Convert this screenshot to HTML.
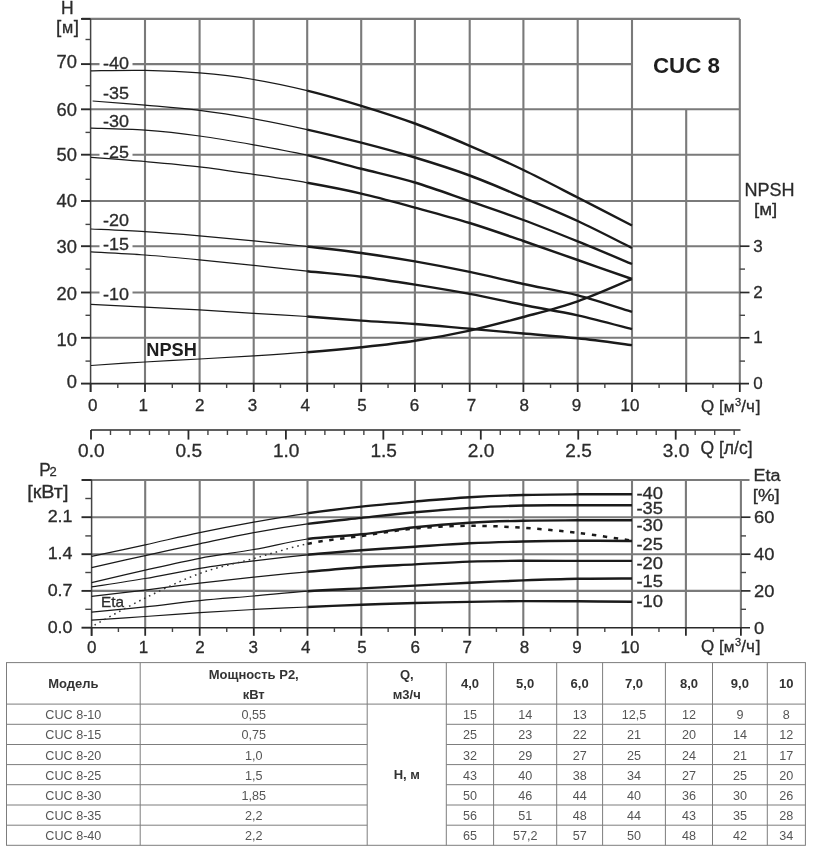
<!DOCTYPE html>
<html><head><meta charset="utf-8"><title>CUC 8</title>
<style>
html,body{margin:0;padding:0;background:#fff;}
body{width:816px;height:851px;overflow:hidden;}
svg{display:block;font-family:'Liberation Sans', Arial, sans-serif;}
</style></head><body>
<svg width="816" height="851" viewBox="0 0 816 851">
<rect width="816" height="851" fill="#fff"/>
<line x1="90.60" y1="337.80" x2="739.80" y2="337.80" stroke="#7a7a7a" stroke-width="2.1" />
<line x1="90.60" y1="292.50" x2="739.80" y2="292.50" stroke="#7a7a7a" stroke-width="2.1" />
<line x1="90.60" y1="246.20" x2="739.80" y2="246.20" stroke="#7a7a7a" stroke-width="2.1" />
<line x1="90.60" y1="201.00" x2="739.80" y2="201.00" stroke="#7a7a7a" stroke-width="2.1" />
<line x1="90.60" y1="154.70" x2="739.80" y2="154.70" stroke="#7a7a7a" stroke-width="2.1" />
<line x1="90.60" y1="109.30" x2="739.80" y2="109.30" stroke="#7a7a7a" stroke-width="2.1" />
<line x1="90.60" y1="64.10" x2="632.00" y2="64.10" stroke="#7a7a7a" stroke-width="2.1" />
<line x1="82.00" y1="18.90" x2="739.80" y2="18.90" stroke="#7a7a7a" stroke-width="2.1" />
<line x1="145.00" y1="18.90" x2="145.00" y2="383.60" stroke="#7a7a7a" stroke-width="2.1" />
<line x1="199.60" y1="18.90" x2="199.60" y2="383.60" stroke="#7a7a7a" stroke-width="2.1" />
<line x1="253.70" y1="18.90" x2="253.70" y2="383.60" stroke="#7a7a7a" stroke-width="2.1" />
<line x1="307.20" y1="18.90" x2="307.20" y2="383.60" stroke="#7a7a7a" stroke-width="2.1" />
<line x1="361.20" y1="18.90" x2="361.20" y2="383.60" stroke="#7a7a7a" stroke-width="2.1" />
<line x1="414.90" y1="18.90" x2="414.90" y2="383.60" stroke="#7a7a7a" stroke-width="2.1" />
<line x1="469.70" y1="18.90" x2="469.70" y2="383.60" stroke="#7a7a7a" stroke-width="2.1" />
<line x1="523.40" y1="18.90" x2="523.40" y2="383.60" stroke="#7a7a7a" stroke-width="2.1" />
<line x1="577.70" y1="18.90" x2="577.70" y2="383.60" stroke="#7a7a7a" stroke-width="2.1" />
<line x1="632.00" y1="18.90" x2="632.00" y2="383.60" stroke="#7a7a7a" stroke-width="2.1" />
<line x1="686.20" y1="109.30" x2="686.20" y2="383.60" stroke="#7a7a7a" stroke-width="2.1" />
<line x1="739.80" y1="18.90" x2="739.80" y2="383.60" stroke="#7a7a7a" stroke-width="2.1" />
<line x1="90.60" y1="18.90" x2="90.60" y2="392.00" stroke="#444" stroke-width="1.5" />
<line x1="81.00" y1="383.60" x2="90.60" y2="383.60" stroke="#2a2a2a" stroke-width="1.9" />
<line x1="81.00" y1="337.80" x2="90.60" y2="337.80" stroke="#2a2a2a" stroke-width="1.9" />
<line x1="81.00" y1="292.50" x2="90.60" y2="292.50" stroke="#2a2a2a" stroke-width="1.9" />
<line x1="81.00" y1="246.20" x2="90.60" y2="246.20" stroke="#2a2a2a" stroke-width="1.9" />
<line x1="81.00" y1="201.00" x2="90.60" y2="201.00" stroke="#2a2a2a" stroke-width="1.9" />
<line x1="81.00" y1="154.70" x2="90.60" y2="154.70" stroke="#2a2a2a" stroke-width="1.9" />
<line x1="81.00" y1="109.30" x2="90.60" y2="109.30" stroke="#2a2a2a" stroke-width="1.9" />
<line x1="81.00" y1="64.10" x2="90.60" y2="64.10" stroke="#2a2a2a" stroke-width="1.9" />
<line x1="81.00" y1="18.90" x2="90.60" y2="18.90" stroke="#2a2a2a" stroke-width="1.9" />
<line x1="85.50" y1="361.10" x2="90.60" y2="361.10" stroke="#444" stroke-width="1.4" />
<line x1="85.50" y1="315.30" x2="90.60" y2="315.30" stroke="#444" stroke-width="1.4" />
<line x1="85.50" y1="269.10" x2="90.60" y2="269.10" stroke="#444" stroke-width="1.4" />
<line x1="85.50" y1="224.40" x2="90.60" y2="224.40" stroke="#444" stroke-width="1.4" />
<line x1="85.50" y1="179.30" x2="90.60" y2="179.30" stroke="#444" stroke-width="1.4" />
<line x1="85.50" y1="132.40" x2="90.60" y2="132.40" stroke="#444" stroke-width="1.4" />
<line x1="85.50" y1="85.70" x2="90.60" y2="85.70" stroke="#444" stroke-width="1.4" />
<line x1="85.50" y1="39.50" x2="90.60" y2="39.50" stroke="#444" stroke-width="1.4" />
<line x1="90.60" y1="383.60" x2="749.00" y2="383.60" stroke="#2a2a2a" stroke-width="1.6" />
<line x1="90.60" y1="383.60" x2="90.60" y2="392.00" stroke="#2a2a2a" stroke-width="1.8" />
<line x1="145.00" y1="383.60" x2="145.00" y2="392.00" stroke="#2a2a2a" stroke-width="1.8" />
<line x1="199.60" y1="383.60" x2="199.60" y2="392.00" stroke="#2a2a2a" stroke-width="1.8" />
<line x1="253.70" y1="383.60" x2="253.70" y2="392.00" stroke="#2a2a2a" stroke-width="1.8" />
<line x1="307.20" y1="383.60" x2="307.20" y2="392.00" stroke="#2a2a2a" stroke-width="1.8" />
<line x1="361.20" y1="383.60" x2="361.20" y2="392.00" stroke="#2a2a2a" stroke-width="1.8" />
<line x1="414.90" y1="383.60" x2="414.90" y2="392.00" stroke="#2a2a2a" stroke-width="1.8" />
<line x1="469.70" y1="383.60" x2="469.70" y2="392.00" stroke="#2a2a2a" stroke-width="1.8" />
<line x1="523.40" y1="383.60" x2="523.40" y2="392.00" stroke="#2a2a2a" stroke-width="1.8" />
<line x1="577.70" y1="383.60" x2="577.70" y2="392.00" stroke="#2a2a2a" stroke-width="1.8" />
<line x1="632.00" y1="383.60" x2="632.00" y2="392.00" stroke="#2a2a2a" stroke-width="1.8" />
<line x1="686.20" y1="383.60" x2="686.20" y2="392.00" stroke="#2a2a2a" stroke-width="1.8" />
<line x1="739.80" y1="383.60" x2="739.80" y2="392.00" stroke="#2a2a2a" stroke-width="1.8" />
<line x1="117.80" y1="383.60" x2="117.80" y2="388.00" stroke="#444" stroke-width="1.4" />
<line x1="172.30" y1="383.60" x2="172.30" y2="388.00" stroke="#444" stroke-width="1.4" />
<line x1="226.65" y1="383.60" x2="226.65" y2="388.00" stroke="#444" stroke-width="1.4" />
<line x1="280.45" y1="383.60" x2="280.45" y2="388.00" stroke="#444" stroke-width="1.4" />
<line x1="334.20" y1="383.60" x2="334.20" y2="388.00" stroke="#444" stroke-width="1.4" />
<line x1="388.05" y1="383.60" x2="388.05" y2="388.00" stroke="#444" stroke-width="1.4" />
<line x1="442.30" y1="383.60" x2="442.30" y2="388.00" stroke="#444" stroke-width="1.4" />
<line x1="496.55" y1="383.60" x2="496.55" y2="388.00" stroke="#444" stroke-width="1.4" />
<line x1="550.55" y1="383.60" x2="550.55" y2="388.00" stroke="#444" stroke-width="1.4" />
<line x1="604.85" y1="383.60" x2="604.85" y2="388.00" stroke="#444" stroke-width="1.4" />
<line x1="659.10" y1="383.60" x2="659.10" y2="388.00" stroke="#444" stroke-width="1.4" />
<line x1="713.00" y1="383.60" x2="713.00" y2="388.00" stroke="#444" stroke-width="1.4" />
<line x1="739.80" y1="337.80" x2="749.50" y2="337.80" stroke="#2a2a2a" stroke-width="1.7" />
<line x1="739.80" y1="292.50" x2="749.50" y2="292.50" stroke="#2a2a2a" stroke-width="1.7" />
<line x1="739.80" y1="246.20" x2="749.50" y2="246.20" stroke="#2a2a2a" stroke-width="1.7" />
<line x1="739.80" y1="361.10" x2="745.00" y2="361.10" stroke="#444" stroke-width="1.4" />
<line x1="739.80" y1="315.30" x2="745.00" y2="315.30" stroke="#444" stroke-width="1.4" />
<line x1="739.80" y1="269.10" x2="745.00" y2="269.10" stroke="#444" stroke-width="1.4" />
<rect x="99.5" y="62.10" width="33" height="4" fill="#fff"/>
<rect x="99.5" y="152.70" width="33" height="4" fill="#fff"/>
<rect x="99.5" y="244.20" width="33" height="4" fill="#fff"/>
<rect x="99.5" y="290.50" width="33" height="4" fill="#fff"/>
<path d="M91.00,70.80 C100.00,70.73 126.90,70.05 145.00,70.40 C163.10,70.75 181.48,71.38 199.60,72.90 C217.72,74.42 235.77,76.55 253.70,79.50 C271.63,82.45 289.28,86.22 307.20,90.60" fill="none" stroke="#1a1a1a" stroke-width="1.25"/>
<path d="M307.20,90.60 C325.12,94.98 343.25,100.32 361.20,105.80 C379.15,111.28 396.82,116.83 414.90,123.50 C432.98,130.17 451.62,138.05 469.70,145.80 C487.78,153.55 505.40,161.38 523.40,170.00 C541.40,178.62 559.60,188.25 577.70,197.50 C595.80,206.75 622.95,220.83 632.00,225.50" fill="none" stroke="#1a1a1a" stroke-width="2.4"/>
<path d="M92.60,101.00 C101.33,101.70 127.17,103.63 145.00,105.20 C162.83,106.77 181.48,108.14 199.60,110.40 C217.72,112.66 235.77,115.55 253.70,118.75 C271.63,121.95 289.28,125.61 307.20,129.60" fill="none" stroke="#1a1a1a" stroke-width="1.25"/>
<path d="M307.20,129.60 C325.12,133.59 343.25,138.05 361.20,142.70 C379.15,147.35 396.82,152.03 414.90,157.50 C432.98,162.97 451.62,168.83 469.70,175.50 C487.78,182.17 505.40,189.92 523.40,197.50 C541.40,205.08 559.60,212.58 577.70,221.00 C595.80,229.42 622.95,243.50 632.00,248.00" fill="none" stroke="#1a1a1a" stroke-width="2.4"/>
<path d="M91.00,128.10 C100.00,128.45 126.90,128.88 145.00,130.20 C163.10,131.52 181.48,133.57 199.60,136.00 C217.72,138.43 235.77,141.60 253.70,144.80 C271.63,148.00 289.28,151.21 307.20,155.20" fill="none" stroke="#1a1a1a" stroke-width="1.25"/>
<path d="M307.20,155.20 C325.12,159.19 343.25,164.20 361.20,168.75 C379.15,173.30 396.82,177.09 414.90,182.50 C432.98,187.91 451.62,194.95 469.70,201.20 C487.78,207.45 505.40,213.30 523.40,220.00 C541.40,226.70 559.60,234.07 577.70,241.40 C595.80,248.73 622.95,260.23 632.00,264.00" fill="none" stroke="#1a1a1a" stroke-width="2.4"/>
<path d="M91.00,157.30 C100.00,158.00 126.90,159.92 145.00,161.50 C163.10,163.08 181.48,164.65 199.60,166.80 C217.72,168.95 235.77,171.73 253.70,174.40 C271.63,177.07 289.28,179.60 307.20,182.80" fill="none" stroke="#1a1a1a" stroke-width="1.25"/>
<path d="M307.20,182.80 C325.12,186.00 343.25,189.47 361.20,193.60 C379.15,197.73 396.82,202.70 414.90,207.60 C432.98,212.50 451.62,217.43 469.70,223.00 C487.78,228.57 505.40,234.83 523.40,241.00 C541.40,247.17 559.60,253.67 577.70,260.00 C595.80,266.33 622.95,275.83 632.00,279.00" fill="none" stroke="#1a1a1a" stroke-width="2.4"/>
<path d="M91.00,229.00 C100.00,229.43 126.90,230.47 145.00,231.60 C163.10,232.73 181.48,234.25 199.60,235.80 C217.72,237.35 235.77,239.12 253.70,240.90 C271.63,242.68 289.28,244.48 307.20,246.50" fill="none" stroke="#1a1a1a" stroke-width="1.25"/>
<path d="M307.20,246.50 C325.12,248.52 343.25,250.52 361.20,253.00 C379.15,255.48 396.82,258.25 414.90,261.40 C432.98,264.55 451.62,268.13 469.70,271.90 C487.78,275.67 505.40,280.10 523.40,284.00 C541.40,287.90 559.60,290.65 577.70,295.30 C595.80,299.95 622.95,309.13 632.00,311.90" fill="none" stroke="#1a1a1a" stroke-width="2.4"/>
<path d="M91.00,251.80 C100.00,252.33 126.90,253.67 145.00,255.00 C163.10,256.33 181.48,258.07 199.60,259.80 C217.72,261.53 235.77,263.50 253.70,265.40 C271.63,267.30 289.28,269.32 307.20,271.20" fill="none" stroke="#1a1a1a" stroke-width="1.25"/>
<path d="M307.20,271.20 C325.12,273.08 343.25,274.47 361.20,276.70 C379.15,278.93 396.82,281.73 414.90,284.60 C432.98,287.47 451.62,290.50 469.70,293.90 C487.78,297.30 505.40,301.42 523.40,305.00 C541.40,308.58 559.60,311.37 577.70,315.40 C595.80,319.43 622.95,326.90 632.00,329.20" fill="none" stroke="#1a1a1a" stroke-width="2.4"/>
<path d="M91.00,304.30 C100.00,304.77 126.90,306.17 145.00,307.10 C163.10,308.03 181.48,308.87 199.60,309.90 C217.72,310.93 235.77,312.20 253.70,313.30 C271.63,314.40 289.28,315.28 307.20,316.50" fill="none" stroke="#1a1a1a" stroke-width="1.25"/>
<path d="M307.20,316.50 C325.12,317.72 343.25,319.35 361.20,320.60 C379.15,321.85 396.82,322.63 414.90,324.00 C432.98,325.37 451.62,327.22 469.70,328.80 C487.78,330.38 505.40,331.92 523.40,333.50 C541.40,335.08 559.60,336.37 577.70,338.30 C595.80,340.23 622.95,343.97 632.00,345.10" fill="none" stroke="#1a1a1a" stroke-width="2.4"/>
<path d="M91.00,365.50 C100.00,364.92 126.90,363.08 145.00,362.00 C163.10,360.92 181.48,360.02 199.60,359.00 C217.72,357.98 235.77,357.03 253.70,355.90 C271.63,354.77 289.28,353.63 307.20,352.20" fill="none" stroke="#1a1a1a" stroke-width="1.25"/>
<path d="M307.20,352.20 C325.12,350.77 343.25,349.20 361.20,347.30 C379.15,345.40 396.82,343.58 414.90,340.80 C432.98,338.02 451.62,334.57 469.70,330.60 C487.78,326.63 505.40,321.88 523.40,317.00 C541.40,312.12 559.60,307.63 577.70,301.30 C595.80,294.97 622.95,282.72 632.00,279.00" fill="none" stroke="#1a1a1a" stroke-width="2.4"/>
<text x="67.20" y="14.00" font-size="17.5" text-anchor="middle" font-weight="normal" fill="#2b2b2b" stroke="#2b2b2b" stroke-width="0.3" >H</text>
<text x="55.9" y="33.2" font-size="19" fill="#2b2b2b" stroke="#2b2b2b" stroke-width="0.3">[<tspan font-size="16.3" dx="0.8">м</tspan><tspan dx="0.5">]</tspan></text>
<text x="76.90" y="388.40" font-size="17.8" text-anchor="end" font-weight="normal" fill="#2b2b2b" stroke="#2b2b2b" stroke-width="0.3" textLength="10.20" lengthAdjust="spacingAndGlyphs" >0</text>
<text x="76.90" y="346.30" font-size="17.8" text-anchor="end" font-weight="normal" fill="#2b2b2b" stroke="#2b2b2b" stroke-width="0.3" textLength="20.39" lengthAdjust="spacingAndGlyphs" >10</text>
<text x="76.90" y="300.40" font-size="17.8" text-anchor="end" font-weight="normal" fill="#2b2b2b" stroke="#2b2b2b" stroke-width="0.3" textLength="20.39" lengthAdjust="spacingAndGlyphs" >20</text>
<text x="76.90" y="252.50" font-size="17.8" text-anchor="end" font-weight="normal" fill="#2b2b2b" stroke="#2b2b2b" stroke-width="0.3" textLength="20.39" lengthAdjust="spacingAndGlyphs" >30</text>
<text x="76.90" y="206.60" font-size="17.8" text-anchor="end" font-weight="normal" fill="#2b2b2b" stroke="#2b2b2b" stroke-width="0.3" textLength="20.39" lengthAdjust="spacingAndGlyphs" >40</text>
<text x="76.90" y="161.40" font-size="17.8" text-anchor="end" font-weight="normal" fill="#2b2b2b" stroke="#2b2b2b" stroke-width="0.3" textLength="20.39" lengthAdjust="spacingAndGlyphs" >50</text>
<text x="76.90" y="116.00" font-size="17.8" text-anchor="end" font-weight="normal" fill="#2b2b2b" stroke="#2b2b2b" stroke-width="0.3" textLength="20.39" lengthAdjust="spacingAndGlyphs" >60</text>
<text x="76.90" y="68.30" font-size="17.8" text-anchor="end" font-weight="normal" fill="#2b2b2b" stroke="#2b2b2b" stroke-width="0.3" textLength="20.39" lengthAdjust="spacingAndGlyphs" >70</text>
<text x="103.00" y="68.75" font-size="16" text-anchor="start" font-weight="normal" fill="#2b2b2b" stroke="#2b2b2b" stroke-width="0.3" textLength="25.90" lengthAdjust="spacingAndGlyphs" >-40</text>
<text x="103.00" y="98.50" font-size="16" text-anchor="start" font-weight="normal" fill="#2b2b2b" stroke="#2b2b2b" stroke-width="0.3" textLength="25.90" lengthAdjust="spacingAndGlyphs" >-35</text>
<text x="103.00" y="126.60" font-size="16" text-anchor="start" font-weight="normal" fill="#2b2b2b" stroke="#2b2b2b" stroke-width="0.3" textLength="25.90" lengthAdjust="spacingAndGlyphs" >-30</text>
<text x="103.00" y="157.80" font-size="16" text-anchor="start" font-weight="normal" fill="#2b2b2b" stroke="#2b2b2b" stroke-width="0.3" textLength="25.90" lengthAdjust="spacingAndGlyphs" >-25</text>
<text x="103.00" y="226.10" font-size="16" text-anchor="start" font-weight="normal" fill="#2b2b2b" stroke="#2b2b2b" stroke-width="0.3" textLength="25.90" lengthAdjust="spacingAndGlyphs" >-20</text>
<text x="103.00" y="250.30" font-size="16" text-anchor="start" font-weight="normal" fill="#2b2b2b" stroke="#2b2b2b" stroke-width="0.3" textLength="25.90" lengthAdjust="spacingAndGlyphs" >-15</text>
<text x="103.00" y="299.70" font-size="16" text-anchor="start" font-weight="normal" fill="#2b2b2b" stroke="#2b2b2b" stroke-width="0.3" textLength="25.90" lengthAdjust="spacingAndGlyphs" >-10</text>
<text x="653" y="72.9" font-size="22.4" font-weight="bold" fill="#1e1e1e" textLength="67" lengthAdjust="spacing">CUC 8</text>
<text x="146.30" y="356.30" font-size="17.5" text-anchor="start" font-weight="bold" fill="#1e1e1e" textLength="50.57" lengthAdjust="spacingAndGlyphs" >NPSH</text>
<text x="769.50" y="195.60" font-size="17.5" text-anchor="middle" font-weight="normal" fill="#2b2b2b" stroke="#2b2b2b" stroke-width="0.3" textLength="50.08" lengthAdjust="spacingAndGlyphs" >NPSH</text>
<text x="765.60" y="215.00" font-size="17" text-anchor="middle" font-weight="normal" fill="#2b2b2b" stroke="#2b2b2b" stroke-width="0.3" textLength="23.25" lengthAdjust="spacingAndGlyphs" >[м]</text>
<text x="753.20" y="388.90" font-size="17" text-anchor="start" font-weight="normal" fill="#2b2b2b" stroke="#2b2b2b" stroke-width="0.3" >0</text>
<text x="753.20" y="343.10" font-size="17" text-anchor="start" font-weight="normal" fill="#2b2b2b" stroke="#2b2b2b" stroke-width="0.3" >1</text>
<text x="753.20" y="297.80" font-size="17" text-anchor="start" font-weight="normal" fill="#2b2b2b" stroke="#2b2b2b" stroke-width="0.3" >2</text>
<text x="753.20" y="251.50" font-size="17" text-anchor="start" font-weight="normal" fill="#2b2b2b" stroke="#2b2b2b" stroke-width="0.3" >3</text>
<text x="92.80" y="411.20" font-size="17" text-anchor="middle" font-weight="normal" fill="#2b2b2b" stroke="#2b2b2b" stroke-width="0.3" >0</text>
<text x="143.30" y="411.20" font-size="17" text-anchor="middle" font-weight="normal" fill="#2b2b2b" stroke="#2b2b2b" stroke-width="0.3" >1</text>
<text x="199.75" y="411.20" font-size="17" text-anchor="middle" font-weight="normal" fill="#2b2b2b" stroke="#2b2b2b" stroke-width="0.3" >2</text>
<text x="252.45" y="411.20" font-size="17" text-anchor="middle" font-weight="normal" fill="#2b2b2b" stroke="#2b2b2b" stroke-width="0.3" >3</text>
<text x="305.20" y="411.20" font-size="17" text-anchor="middle" font-weight="normal" fill="#2b2b2b" stroke="#2b2b2b" stroke-width="0.3" >4</text>
<text x="362.00" y="411.20" font-size="17" text-anchor="middle" font-weight="normal" fill="#2b2b2b" stroke="#2b2b2b" stroke-width="0.3" >5</text>
<text x="414.40" y="411.20" font-size="17" text-anchor="middle" font-weight="normal" fill="#2b2b2b" stroke="#2b2b2b" stroke-width="0.3" >6</text>
<text x="471.60" y="411.20" font-size="17" text-anchor="middle" font-weight="normal" fill="#2b2b2b" stroke="#2b2b2b" stroke-width="0.3" >7</text>
<text x="524.20" y="411.20" font-size="17" text-anchor="middle" font-weight="normal" fill="#2b2b2b" stroke="#2b2b2b" stroke-width="0.3" >8</text>
<text x="576.50" y="411.20" font-size="17" text-anchor="middle" font-weight="normal" fill="#2b2b2b" stroke="#2b2b2b" stroke-width="0.3" >9</text>
<text x="629.90" y="411.20" font-size="17" text-anchor="middle" font-weight="normal" fill="#2b2b2b" stroke="#2b2b2b" stroke-width="0.3" >10</text>
<text x="701.00" y="411.80" font-size="17" text-anchor="start" font-weight="normal" fill="#2b2b2b" stroke="#2b2b2b" stroke-width="0.3" >Q [<tspan font-size="15.5">м</tspan><tspan font-size="11" dx="0.6" dy="-5.8">3</tspan><tspan dx="0.3" dy="5.8">/ч</tspan><tspan dx="0.8">]</tspan></text>
<line x1="91.00" y1="430.00" x2="740.50" y2="430.00" stroke="#2a2a2a" stroke-width="1.6" />
<line x1="91.00" y1="430.00" x2="91.00" y2="439.60" stroke="#2a2a2a" stroke-width="1.8" />
<line x1="110.49" y1="430.00" x2="110.49" y2="435.00" stroke="#444" stroke-width="1.4" />
<line x1="129.98" y1="430.00" x2="129.98" y2="435.00" stroke="#444" stroke-width="1.4" />
<line x1="149.47" y1="430.00" x2="149.47" y2="435.00" stroke="#444" stroke-width="1.4" />
<line x1="168.96" y1="430.00" x2="168.96" y2="435.00" stroke="#444" stroke-width="1.4" />
<line x1="188.45" y1="430.00" x2="188.45" y2="439.60" stroke="#2a2a2a" stroke-width="1.8" />
<line x1="207.94" y1="430.00" x2="207.94" y2="435.00" stroke="#444" stroke-width="1.4" />
<line x1="227.43" y1="430.00" x2="227.43" y2="435.00" stroke="#444" stroke-width="1.4" />
<line x1="246.92" y1="430.00" x2="246.92" y2="435.00" stroke="#444" stroke-width="1.4" />
<line x1="266.41" y1="430.00" x2="266.41" y2="435.00" stroke="#444" stroke-width="1.4" />
<line x1="285.90" y1="430.00" x2="285.90" y2="439.60" stroke="#2a2a2a" stroke-width="1.8" />
<line x1="305.39" y1="430.00" x2="305.39" y2="435.00" stroke="#444" stroke-width="1.4" />
<line x1="324.88" y1="430.00" x2="324.88" y2="435.00" stroke="#444" stroke-width="1.4" />
<line x1="344.37" y1="430.00" x2="344.37" y2="435.00" stroke="#444" stroke-width="1.4" />
<line x1="363.86" y1="430.00" x2="363.86" y2="435.00" stroke="#444" stroke-width="1.4" />
<line x1="383.35" y1="430.00" x2="383.35" y2="439.60" stroke="#2a2a2a" stroke-width="1.8" />
<line x1="402.84" y1="430.00" x2="402.84" y2="435.00" stroke="#444" stroke-width="1.4" />
<line x1="422.33" y1="430.00" x2="422.33" y2="435.00" stroke="#444" stroke-width="1.4" />
<line x1="441.82" y1="430.00" x2="441.82" y2="435.00" stroke="#444" stroke-width="1.4" />
<line x1="461.31" y1="430.00" x2="461.31" y2="435.00" stroke="#444" stroke-width="1.4" />
<line x1="480.80" y1="430.00" x2="480.80" y2="439.60" stroke="#2a2a2a" stroke-width="1.8" />
<line x1="500.29" y1="430.00" x2="500.29" y2="435.00" stroke="#444" stroke-width="1.4" />
<line x1="519.78" y1="430.00" x2="519.78" y2="435.00" stroke="#444" stroke-width="1.4" />
<line x1="539.27" y1="430.00" x2="539.27" y2="435.00" stroke="#444" stroke-width="1.4" />
<line x1="558.76" y1="430.00" x2="558.76" y2="435.00" stroke="#444" stroke-width="1.4" />
<line x1="578.25" y1="430.00" x2="578.25" y2="439.60" stroke="#2a2a2a" stroke-width="1.8" />
<line x1="597.74" y1="430.00" x2="597.74" y2="435.00" stroke="#444" stroke-width="1.4" />
<line x1="617.23" y1="430.00" x2="617.23" y2="435.00" stroke="#444" stroke-width="1.4" />
<line x1="636.72" y1="430.00" x2="636.72" y2="435.00" stroke="#444" stroke-width="1.4" />
<line x1="656.21" y1="430.00" x2="656.21" y2="435.00" stroke="#444" stroke-width="1.4" />
<line x1="675.70" y1="430.00" x2="675.70" y2="439.60" stroke="#2a2a2a" stroke-width="1.8" />
<line x1="695.19" y1="430.00" x2="695.19" y2="435.00" stroke="#444" stroke-width="1.4" />
<line x1="714.68" y1="430.00" x2="714.68" y2="435.00" stroke="#444" stroke-width="1.4" />
<line x1="734.17" y1="430.00" x2="734.17" y2="435.00" stroke="#444" stroke-width="1.4" />
<text x="91.30" y="456.60" font-size="18.5" text-anchor="middle" font-weight="normal" fill="#2b2b2b" stroke="#2b2b2b" stroke-width="0.3" textLength="26.49" lengthAdjust="spacingAndGlyphs" >0.0</text>
<text x="188.75" y="456.60" font-size="18.5" text-anchor="middle" font-weight="normal" fill="#2b2b2b" stroke="#2b2b2b" stroke-width="0.3" textLength="26.49" lengthAdjust="spacingAndGlyphs" >0.5</text>
<text x="286.20" y="456.60" font-size="18.5" text-anchor="middle" font-weight="normal" fill="#2b2b2b" stroke="#2b2b2b" stroke-width="0.3" textLength="26.49" lengthAdjust="spacingAndGlyphs" >1.0</text>
<text x="383.65" y="456.60" font-size="18.5" text-anchor="middle" font-weight="normal" fill="#2b2b2b" stroke="#2b2b2b" stroke-width="0.3" textLength="26.49" lengthAdjust="spacingAndGlyphs" >1.5</text>
<text x="481.10" y="456.60" font-size="18.5" text-anchor="middle" font-weight="normal" fill="#2b2b2b" stroke="#2b2b2b" stroke-width="0.3" textLength="26.49" lengthAdjust="spacingAndGlyphs" >2.0</text>
<text x="578.55" y="456.60" font-size="18.5" text-anchor="middle" font-weight="normal" fill="#2b2b2b" stroke="#2b2b2b" stroke-width="0.3" textLength="26.49" lengthAdjust="spacingAndGlyphs" >2.5</text>
<text x="676.00" y="456.60" font-size="18.5" text-anchor="middle" font-weight="normal" fill="#2b2b2b" stroke="#2b2b2b" stroke-width="0.3" textLength="26.49" lengthAdjust="spacingAndGlyphs" >3.0</text>
<text x="700.50" y="454.00" font-size="17.5" text-anchor="start" font-weight="normal" fill="#2b2b2b" stroke="#2b2b2b" stroke-width="0.3" >Q [л/с]</text>
<line x1="91.60" y1="590.90" x2="740.90" y2="590.90" stroke="#7a7a7a" stroke-width="2.1" />
<line x1="91.60" y1="554.20" x2="740.90" y2="554.20" stroke="#7a7a7a" stroke-width="2.1" />
<line x1="91.60" y1="517.20" x2="740.90" y2="517.20" stroke="#7a7a7a" stroke-width="2.1" />
<line x1="82.00" y1="480.00" x2="749.50" y2="480.00" stroke="#7a7a7a" stroke-width="2.1" />
<line x1="145.20" y1="480.00" x2="145.20" y2="627.70" stroke="#7a7a7a" stroke-width="2.1" />
<line x1="199.70" y1="480.00" x2="199.70" y2="627.70" stroke="#7a7a7a" stroke-width="2.1" />
<line x1="253.80" y1="480.00" x2="253.80" y2="627.70" stroke="#7a7a7a" stroke-width="2.1" />
<line x1="307.50" y1="480.00" x2="307.50" y2="627.70" stroke="#7a7a7a" stroke-width="2.1" />
<line x1="361.30" y1="480.00" x2="361.30" y2="627.70" stroke="#7a7a7a" stroke-width="2.1" />
<line x1="415.00" y1="480.00" x2="415.00" y2="627.70" stroke="#7a7a7a" stroke-width="2.1" />
<line x1="469.50" y1="480.00" x2="469.50" y2="627.70" stroke="#7a7a7a" stroke-width="2.1" />
<line x1="523.30" y1="480.00" x2="523.30" y2="627.70" stroke="#7a7a7a" stroke-width="2.1" />
<line x1="577.60" y1="480.00" x2="577.60" y2="627.70" stroke="#7a7a7a" stroke-width="2.1" />
<line x1="632.00" y1="480.00" x2="632.00" y2="627.70" stroke="#7a7a7a" stroke-width="2.1" />
<line x1="685.90" y1="480.00" x2="685.90" y2="627.70" stroke="#7a7a7a" stroke-width="2.1" />
<line x1="740.90" y1="480.00" x2="740.90" y2="627.70" stroke="#7a7a7a" stroke-width="2.1" />
<line x1="91.60" y1="480.00" x2="91.60" y2="636.00" stroke="#444" stroke-width="1.5" />
<line x1="81.50" y1="627.70" x2="91.60" y2="627.70" stroke="#2a2a2a" stroke-width="1.9" />
<line x1="81.50" y1="590.90" x2="91.60" y2="590.90" stroke="#2a2a2a" stroke-width="1.9" />
<line x1="81.50" y1="554.20" x2="91.60" y2="554.20" stroke="#2a2a2a" stroke-width="1.9" />
<line x1="81.50" y1="517.20" x2="91.60" y2="517.20" stroke="#2a2a2a" stroke-width="1.9" />
<line x1="81.50" y1="480.00" x2="91.60" y2="480.00" stroke="#2a2a2a" stroke-width="1.9" />
<line x1="85.30" y1="609.30" x2="91.60" y2="609.30" stroke="#444" stroke-width="1.4" />
<line x1="85.30" y1="572.50" x2="91.60" y2="572.50" stroke="#444" stroke-width="1.4" />
<line x1="85.30" y1="535.90" x2="91.60" y2="535.90" stroke="#444" stroke-width="1.4" />
<line x1="85.30" y1="498.50" x2="91.60" y2="498.50" stroke="#444" stroke-width="1.4" />
<line x1="91.60" y1="627.70" x2="750.00" y2="627.70" stroke="#2a2a2a" stroke-width="1.6" />
<line x1="91.60" y1="627.70" x2="91.60" y2="635.80" stroke="#2a2a2a" stroke-width="1.8" />
<line x1="145.20" y1="627.70" x2="145.20" y2="635.80" stroke="#2a2a2a" stroke-width="1.8" />
<line x1="199.70" y1="627.70" x2="199.70" y2="635.80" stroke="#2a2a2a" stroke-width="1.8" />
<line x1="253.80" y1="627.70" x2="253.80" y2="635.80" stroke="#2a2a2a" stroke-width="1.8" />
<line x1="307.50" y1="627.70" x2="307.50" y2="635.80" stroke="#2a2a2a" stroke-width="1.8" />
<line x1="361.30" y1="627.70" x2="361.30" y2="635.80" stroke="#2a2a2a" stroke-width="1.8" />
<line x1="415.00" y1="627.70" x2="415.00" y2="635.80" stroke="#2a2a2a" stroke-width="1.8" />
<line x1="469.50" y1="627.70" x2="469.50" y2="635.80" stroke="#2a2a2a" stroke-width="1.8" />
<line x1="523.30" y1="627.70" x2="523.30" y2="635.80" stroke="#2a2a2a" stroke-width="1.8" />
<line x1="577.60" y1="627.70" x2="577.60" y2="635.80" stroke="#2a2a2a" stroke-width="1.8" />
<line x1="632.00" y1="627.70" x2="632.00" y2="635.80" stroke="#2a2a2a" stroke-width="1.8" />
<line x1="685.90" y1="627.70" x2="685.90" y2="635.80" stroke="#2a2a2a" stroke-width="1.8" />
<line x1="740.90" y1="627.70" x2="740.90" y2="635.80" stroke="#2a2a2a" stroke-width="1.8" />
<line x1="118.40" y1="627.70" x2="118.40" y2="632.00" stroke="#444" stroke-width="1.4" />
<line x1="172.45" y1="627.70" x2="172.45" y2="632.00" stroke="#444" stroke-width="1.4" />
<line x1="226.75" y1="627.70" x2="226.75" y2="632.00" stroke="#444" stroke-width="1.4" />
<line x1="280.65" y1="627.70" x2="280.65" y2="632.00" stroke="#444" stroke-width="1.4" />
<line x1="334.40" y1="627.70" x2="334.40" y2="632.00" stroke="#444" stroke-width="1.4" />
<line x1="388.15" y1="627.70" x2="388.15" y2="632.00" stroke="#444" stroke-width="1.4" />
<line x1="442.25" y1="627.70" x2="442.25" y2="632.00" stroke="#444" stroke-width="1.4" />
<line x1="496.40" y1="627.70" x2="496.40" y2="632.00" stroke="#444" stroke-width="1.4" />
<line x1="550.45" y1="627.70" x2="550.45" y2="632.00" stroke="#444" stroke-width="1.4" />
<line x1="604.80" y1="627.70" x2="604.80" y2="632.00" stroke="#444" stroke-width="1.4" />
<line x1="658.95" y1="627.70" x2="658.95" y2="632.00" stroke="#444" stroke-width="1.4" />
<line x1="713.40" y1="627.70" x2="713.40" y2="632.00" stroke="#444" stroke-width="1.4" />
<line x1="740.90" y1="590.90" x2="750.50" y2="590.90" stroke="#2a2a2a" stroke-width="1.7" />
<line x1="740.90" y1="554.20" x2="750.50" y2="554.20" stroke="#2a2a2a" stroke-width="1.7" />
<line x1="740.90" y1="517.20" x2="750.50" y2="517.20" stroke="#2a2a2a" stroke-width="1.7" />
<line x1="740.90" y1="609.30" x2="746.00" y2="609.30" stroke="#444" stroke-width="1.4" />
<line x1="740.90" y1="572.50" x2="746.00" y2="572.50" stroke="#444" stroke-width="1.4" />
<line x1="740.90" y1="535.90" x2="746.00" y2="535.90" stroke="#444" stroke-width="1.4" />
<path d="M91.60,556.30 C100.53,554.38 127.18,548.75 145.20,544.80 C163.22,540.85 181.60,536.38 199.70,532.60 C217.80,528.82 235.83,525.32 253.80,522.10 C271.77,518.88 289.58,515.88 307.50,513.30" fill="none" stroke="#1a1a1a" stroke-width="1.25"/>
<path d="M307.50,513.30 C325.42,510.72 343.38,508.55 361.30,506.60 C379.22,504.65 396.97,503.15 415.00,501.60 C433.03,500.05 451.45,498.40 469.50,497.30 C487.55,496.20 505.28,495.50 523.30,495.00 C541.32,494.50 559.48,494.42 577.60,494.30 C595.72,494.18 622.93,494.30 632.00,494.30" fill="none" stroke="#1a1a1a" stroke-width="2.4"/>
<path d="M91.60,567.60 C100.53,565.60 127.18,559.57 145.20,555.60 C163.22,551.63 181.60,547.63 199.70,543.80 C217.80,539.97 235.83,535.92 253.80,532.60 C271.77,529.28 289.58,526.35 307.50,523.90" fill="none" stroke="#1a1a1a" stroke-width="1.25"/>
<path d="M307.50,523.90 C325.42,521.45 343.38,519.83 361.30,517.90 C379.22,515.97 396.97,513.95 415.00,512.30 C433.03,510.65 451.45,509.13 469.50,508.00 C487.55,506.87 505.28,505.95 523.30,505.50 C541.32,505.05 559.48,505.33 577.60,505.30 C595.72,505.27 622.93,505.30 632.00,505.30" fill="none" stroke="#1a1a1a" stroke-width="2.4"/>
<path d="M91.60,582.60 C100.53,580.52 127.18,574.15 145.20,570.10 C163.22,566.05 181.60,561.73 199.70,558.30 C217.80,554.87 235.83,552.72 253.80,549.50 C271.77,546.28 289.58,541.53 307.50,539.00" fill="none" stroke="#1a1a1a" stroke-width="1.25"/>
<path d="M307.50,539.00 C325.42,536.47 343.38,536.27 361.30,534.30 C379.22,532.33 396.97,529.13 415.00,527.20 C433.03,525.27 451.45,523.78 469.50,522.70 C487.55,521.62 505.28,521.10 523.30,520.70 C541.32,520.30 559.48,520.37 577.60,520.30 C595.72,520.23 622.93,520.30 632.00,520.30" fill="none" stroke="#1a1a1a" stroke-width="2.4"/>
<path d="M91.60,586.90 C100.53,585.50 127.18,581.60 145.20,578.50 C163.22,575.40 181.60,571.25 199.70,568.30 C217.80,565.35 235.83,563.05 253.80,560.80 C271.77,558.55 289.58,556.55 307.50,554.80" fill="none" stroke="#1a1a1a" stroke-width="1.25"/>
<path d="M307.50,554.80 C325.42,553.05 343.38,551.65 361.30,550.30 C379.22,548.95 396.97,547.87 415.00,546.70 C433.03,545.53 451.45,544.17 469.50,543.30 C487.55,542.43 505.28,541.92 523.30,541.50 C541.32,541.08 559.48,540.88 577.60,540.80 C595.72,540.72 622.93,540.97 632.00,541.00" fill="none" stroke="#1a1a1a" stroke-width="2.4"/>
<path d="M91.60,596.30 C100.53,595.27 127.18,592.30 145.20,590.10 C163.22,587.90 181.60,585.27 199.70,583.10 C217.80,580.93 235.83,578.98 253.80,577.10 C271.77,575.22 289.58,573.45 307.50,571.80" fill="none" stroke="#1a1a1a" stroke-width="1.25"/>
<path d="M307.50,571.80 C325.42,570.15 343.38,568.43 361.30,567.20 C379.22,565.97 396.97,565.33 415.00,564.40 C433.03,563.47 451.45,562.20 469.50,561.60 C487.55,561.00 505.28,560.92 523.30,560.80 C541.32,560.68 559.48,560.88 577.60,560.90 C595.72,560.92 622.93,560.90 632.00,560.90" fill="none" stroke="#1a1a1a" stroke-width="2.4"/>
<path d="M91.60,612.10 C100.53,611.22 127.18,608.72 145.20,606.80 C163.22,604.88 181.60,602.40 199.70,600.60 C217.80,598.80 235.83,597.57 253.80,596.00 C271.77,594.43 289.58,592.47 307.50,591.20" fill="none" stroke="#1a1a1a" stroke-width="1.25"/>
<path d="M307.50,591.20 C325.42,589.93 343.38,589.33 361.30,588.40 C379.22,587.47 396.97,586.55 415.00,585.60 C433.03,584.65 451.45,583.57 469.50,582.70 C487.55,581.83 505.28,581.05 523.30,580.40 C541.32,579.75 559.48,579.12 577.60,578.80 C595.72,578.48 622.93,578.55 632.00,578.50" fill="none" stroke="#1a1a1a" stroke-width="2.4"/>
<path d="M91.60,620.10 C100.53,619.50 127.18,617.75 145.20,616.50 C163.22,615.25 181.60,613.77 199.70,612.60 C217.80,611.43 235.83,610.43 253.80,609.50 C271.77,608.57 289.58,607.80 307.50,607.00" fill="none" stroke="#1a1a1a" stroke-width="1.25"/>
<path d="M307.50,607.00 C325.42,606.20 343.38,605.37 361.30,604.70 C379.22,604.03 396.97,603.47 415.00,603.00 C433.03,602.53 451.45,602.22 469.50,601.90 C487.55,601.58 505.28,601.20 523.30,601.10 C541.32,601.00 559.48,601.20 577.60,601.30 C595.72,601.40 622.93,601.63 632.00,601.70" fill="none" stroke="#1a1a1a" stroke-width="2.4"/>
<path d="M94.60,625.00 C103.03,620.50 127.68,606.58 145.20,598.00 C162.72,589.42 181.60,580.08 199.70,573.50 C217.80,566.92 235.83,563.45 253.80,558.50 C271.77,553.55 289.58,547.55 307.50,543.80" fill="none" stroke="#333" stroke-width="1.5" stroke-dasharray="1.6 4"/>
<path d="M307.50,543.80 C325.42,540.05 343.38,538.55 361.30,536.00 C379.22,533.45 396.97,530.20 415.00,528.50 C433.03,526.80 451.45,525.92 469.50,525.80 C487.55,525.68 505.28,526.62 523.30,527.80 C541.32,528.98 559.48,530.77 577.60,532.90 C595.72,535.03 622.93,539.32 632.00,540.60" fill="none" stroke="#1a1a1a" stroke-width="2.5" stroke-dasharray="4.4 6.6"/>
<text x="39.30" y="476.30" font-size="18.5" text-anchor="start" font-weight="normal" fill="#2b2b2b" stroke="#2b2b2b" stroke-width="0.3" textLength="11.48" lengthAdjust="spacingAndGlyphs" >P</text>
<text x="49.60" y="476.30" font-size="13" text-anchor="start" font-weight="normal" fill="#2b2b2b" stroke="#2b2b2b" stroke-width="0.3" textLength="7.23" lengthAdjust="spacingAndGlyphs" >2</text>
<text x="47.80" y="497.60" font-size="18" text-anchor="middle" font-weight="normal" fill="#2b2b2b" stroke="#2b2b2b" stroke-width="0.3" textLength="41.28" lengthAdjust="spacingAndGlyphs" >[кВт]</text>
<text x="72.50" y="632.90" font-size="17" text-anchor="end" font-weight="normal" fill="#2b2b2b" stroke="#2b2b2b" stroke-width="0.3" textLength="24.81" lengthAdjust="spacingAndGlyphs" >0.0</text>
<text x="72.50" y="596.10" font-size="17" text-anchor="end" font-weight="normal" fill="#2b2b2b" stroke="#2b2b2b" stroke-width="0.3" textLength="24.81" lengthAdjust="spacingAndGlyphs" >0.7</text>
<text x="72.50" y="559.40" font-size="17" text-anchor="end" font-weight="normal" fill="#2b2b2b" stroke="#2b2b2b" stroke-width="0.3" textLength="24.81" lengthAdjust="spacingAndGlyphs" >1.4</text>
<text x="72.50" y="522.40" font-size="17" text-anchor="end" font-weight="normal" fill="#2b2b2b" stroke="#2b2b2b" stroke-width="0.3" textLength="24.81" lengthAdjust="spacingAndGlyphs" >2.1</text>
<text x="753.50" y="481.00" font-size="16" text-anchor="start" font-weight="normal" fill="#2b2b2b" stroke="#2b2b2b" stroke-width="0.3" textLength="26.90" lengthAdjust="spacingAndGlyphs" >Eta</text>
<text x="766.30" y="500.50" font-size="17" text-anchor="middle" font-weight="normal" fill="#2b2b2b" stroke="#2b2b2b" stroke-width="0.3" textLength="27.02" lengthAdjust="spacingAndGlyphs" >[%]</text>
<text x="754.00" y="633.70" font-size="17" text-anchor="start" font-weight="normal" fill="#2b2b2b" stroke="#2b2b2b" stroke-width="0.3" textLength="10.21" lengthAdjust="spacingAndGlyphs" >0</text>
<text x="754.00" y="596.90" font-size="17" text-anchor="start" font-weight="normal" fill="#2b2b2b" stroke="#2b2b2b" stroke-width="0.3" textLength="20.42" lengthAdjust="spacingAndGlyphs" >20</text>
<text x="754.00" y="560.20" font-size="17" text-anchor="start" font-weight="normal" fill="#2b2b2b" stroke="#2b2b2b" stroke-width="0.3" textLength="20.42" lengthAdjust="spacingAndGlyphs" >40</text>
<text x="754.00" y="523.20" font-size="17" text-anchor="start" font-weight="normal" fill="#2b2b2b" stroke="#2b2b2b" stroke-width="0.3" textLength="20.42" lengthAdjust="spacingAndGlyphs" >60</text>
<text x="636.50" y="499.30" font-size="17" text-anchor="start" font-weight="normal" fill="#2b2b2b" stroke="#2b2b2b" stroke-width="0.3" textLength="26.53" lengthAdjust="spacingAndGlyphs" >-40</text>
<text x="636.50" y="514.30" font-size="17" text-anchor="start" font-weight="normal" fill="#2b2b2b" stroke="#2b2b2b" stroke-width="0.3" textLength="26.53" lengthAdjust="spacingAndGlyphs" >-35</text>
<text x="636.50" y="530.90" font-size="17" text-anchor="start" font-weight="normal" fill="#2b2b2b" stroke="#2b2b2b" stroke-width="0.3" textLength="26.53" lengthAdjust="spacingAndGlyphs" >-30</text>
<text x="636.50" y="550.30" font-size="17" text-anchor="start" font-weight="normal" fill="#2b2b2b" stroke="#2b2b2b" stroke-width="0.3" textLength="26.53" lengthAdjust="spacingAndGlyphs" >-25</text>
<text x="636.50" y="569.00" font-size="17" text-anchor="start" font-weight="normal" fill="#2b2b2b" stroke="#2b2b2b" stroke-width="0.3" textLength="26.53" lengthAdjust="spacingAndGlyphs" >-20</text>
<text x="636.50" y="587.30" font-size="17" text-anchor="start" font-weight="normal" fill="#2b2b2b" stroke="#2b2b2b" stroke-width="0.3" textLength="26.53" lengthAdjust="spacingAndGlyphs" >-15</text>
<text x="636.50" y="607.20" font-size="17" text-anchor="start" font-weight="normal" fill="#2b2b2b" stroke="#2b2b2b" stroke-width="0.3" textLength="26.53" lengthAdjust="spacingAndGlyphs" >-10</text>
<text x="101.00" y="606.70" font-size="15" text-anchor="start" font-weight="normal" fill="#2b2b2b" stroke="#2b2b2b" stroke-width="0.3" textLength="22.96" lengthAdjust="spacingAndGlyphs" >Eta</text>
<text x="91.80" y="652.70" font-size="17" text-anchor="middle" font-weight="normal" fill="#2b2b2b" stroke="#2b2b2b" stroke-width="0.3" >0</text>
<text x="143.50" y="652.70" font-size="17" text-anchor="middle" font-weight="normal" fill="#2b2b2b" stroke="#2b2b2b" stroke-width="0.3" >1</text>
<text x="200.00" y="652.70" font-size="17" text-anchor="middle" font-weight="normal" fill="#2b2b2b" stroke="#2b2b2b" stroke-width="0.3" >2</text>
<text x="253.30" y="652.70" font-size="17" text-anchor="middle" font-weight="normal" fill="#2b2b2b" stroke="#2b2b2b" stroke-width="0.3" >3</text>
<text x="305.80" y="652.70" font-size="17" text-anchor="middle" font-weight="normal" fill="#2b2b2b" stroke="#2b2b2b" stroke-width="0.3" >4</text>
<text x="362.10" y="652.70" font-size="17" text-anchor="middle" font-weight="normal" fill="#2b2b2b" stroke="#2b2b2b" stroke-width="0.3" >5</text>
<text x="415.30" y="652.70" font-size="17" text-anchor="middle" font-weight="normal" fill="#2b2b2b" stroke="#2b2b2b" stroke-width="0.3" >6</text>
<text x="467.30" y="652.70" font-size="17" text-anchor="middle" font-weight="normal" fill="#2b2b2b" stroke="#2b2b2b" stroke-width="0.3" >7</text>
<text x="524.40" y="652.70" font-size="17" text-anchor="middle" font-weight="normal" fill="#2b2b2b" stroke="#2b2b2b" stroke-width="0.3" >8</text>
<text x="576.90" y="652.70" font-size="17" text-anchor="middle" font-weight="normal" fill="#2b2b2b" stroke="#2b2b2b" stroke-width="0.3" >9</text>
<text x="629.90" y="652.70" font-size="17" text-anchor="middle" font-weight="normal" fill="#2b2b2b" stroke="#2b2b2b" stroke-width="0.3" >10</text>
<text x="701.00" y="651.50" font-size="17" text-anchor="start" font-weight="normal" fill="#2b2b2b" stroke="#2b2b2b" stroke-width="0.3" >Q [<tspan font-size="15.5">м</tspan><tspan font-size="11" dx="0.6" dy="-5.8">3</tspan><tspan dx="0.3" dy="5.8">/ч</tspan><tspan dx="0.8">]</tspan></text>
<rect x="6.5" y="662.6" width="798.9" height="182.69999999999993" fill="none" stroke="#7d7d7d" stroke-width="1"/>
<line x1="140.20" y1="662.60" x2="140.20" y2="845.30" stroke="#7d7d7d" stroke-width="1" />
<line x1="367.20" y1="662.60" x2="367.20" y2="845.30" stroke="#7d7d7d" stroke-width="1" />
<line x1="446.30" y1="662.60" x2="446.30" y2="845.30" stroke="#7d7d7d" stroke-width="1" />
<line x1="493.60" y1="662.60" x2="493.60" y2="845.30" stroke="#7d7d7d" stroke-width="1" />
<line x1="556.70" y1="662.60" x2="556.70" y2="845.30" stroke="#7d7d7d" stroke-width="1" />
<line x1="602.60" y1="662.60" x2="602.60" y2="845.30" stroke="#7d7d7d" stroke-width="1" />
<line x1="665.40" y1="662.60" x2="665.40" y2="845.30" stroke="#7d7d7d" stroke-width="1" />
<line x1="712.50" y1="662.60" x2="712.50" y2="845.30" stroke="#7d7d7d" stroke-width="1" />
<line x1="767.30" y1="662.60" x2="767.30" y2="845.30" stroke="#7d7d7d" stroke-width="1" />
<line x1="6.50" y1="704.10" x2="805.40" y2="704.10" stroke="#7d7d7d" stroke-width="1" />
<line x1="6.50" y1="724.30" x2="367.20" y2="724.30" stroke="#7d7d7d" stroke-width="1" />
<line x1="446.30" y1="724.30" x2="805.40" y2="724.30" stroke="#7d7d7d" stroke-width="1" />
<line x1="6.50" y1="744.50" x2="367.20" y2="744.50" stroke="#7d7d7d" stroke-width="1" />
<line x1="446.30" y1="744.50" x2="805.40" y2="744.50" stroke="#7d7d7d" stroke-width="1" />
<line x1="6.50" y1="764.60" x2="367.20" y2="764.60" stroke="#7d7d7d" stroke-width="1" />
<line x1="446.30" y1="764.60" x2="805.40" y2="764.60" stroke="#7d7d7d" stroke-width="1" />
<line x1="6.50" y1="784.70" x2="367.20" y2="784.70" stroke="#7d7d7d" stroke-width="1" />
<line x1="446.30" y1="784.70" x2="805.40" y2="784.70" stroke="#7d7d7d" stroke-width="1" />
<line x1="6.50" y1="805.00" x2="367.20" y2="805.00" stroke="#7d7d7d" stroke-width="1" />
<line x1="446.30" y1="805.00" x2="805.40" y2="805.00" stroke="#7d7d7d" stroke-width="1" />
<line x1="6.50" y1="825.20" x2="367.20" y2="825.20" stroke="#7d7d7d" stroke-width="1" />
<line x1="446.30" y1="825.20" x2="805.40" y2="825.20" stroke="#7d7d7d" stroke-width="1" />
<text x="73.35" y="688.20" font-family="'Liberation Sans', 'DejaVu Sans', sans-serif" font-size="13" text-anchor="middle" font-weight="bold" fill="#333">Модель</text>
<text x="253.70" y="678.50" font-family="'Liberation Sans', 'DejaVu Sans', sans-serif" font-size="13" text-anchor="middle" font-weight="bold" fill="#333">Мощность Р2,</text>
<text x="253.70" y="698.60" font-family="'Liberation Sans', 'DejaVu Sans', sans-serif" font-size="13" text-anchor="middle" font-weight="bold" fill="#333">кВт</text>
<text x="406.75" y="678.50" font-family="'Liberation Sans', 'DejaVu Sans', sans-serif" font-size="13" text-anchor="middle" font-weight="bold" fill="#333">Q,</text>
<text x="406.75" y="698.60" font-family="'Liberation Sans', 'DejaVu Sans', sans-serif" font-size="13" text-anchor="middle" font-weight="bold" fill="#333">м3/ч</text>
<text x="469.95" y="688.40" font-family="'Liberation Sans', 'DejaVu Sans', sans-serif" font-size="13" text-anchor="middle" font-weight="bold" fill="#333">4,0</text>
<text x="525.15" y="688.40" font-family="'Liberation Sans', 'DejaVu Sans', sans-serif" font-size="13" text-anchor="middle" font-weight="bold" fill="#333">5,0</text>
<text x="579.65" y="688.40" font-family="'Liberation Sans', 'DejaVu Sans', sans-serif" font-size="13" text-anchor="middle" font-weight="bold" fill="#333">6,0</text>
<text x="634.00" y="688.40" font-family="'Liberation Sans', 'DejaVu Sans', sans-serif" font-size="13" text-anchor="middle" font-weight="bold" fill="#333">7,0</text>
<text x="688.95" y="688.40" font-family="'Liberation Sans', 'DejaVu Sans', sans-serif" font-size="13" text-anchor="middle" font-weight="bold" fill="#333">8,0</text>
<text x="739.90" y="688.40" font-family="'Liberation Sans', 'DejaVu Sans', sans-serif" font-size="13" text-anchor="middle" font-weight="bold" fill="#333">9,0</text>
<text x="786.35" y="688.40" font-family="'Liberation Sans', 'DejaVu Sans', sans-serif" font-size="13" text-anchor="middle" font-weight="bold" fill="#333">10</text>
<text x="73.35" y="719.20" font-family="'Liberation Sans', 'DejaVu Sans', sans-serif" font-size="12.6" text-anchor="middle" font-weight="normal" fill="#555">CUC 8-10</text>
<text x="253.70" y="719.20" font-family="'Liberation Sans', 'DejaVu Sans', sans-serif" font-size="12.6" text-anchor="middle" font-weight="normal" fill="#555">0,55</text>
<text x="469.95" y="719.20" font-family="'Liberation Sans', 'DejaVu Sans', sans-serif" font-size="12.6" text-anchor="middle" font-weight="normal" fill="#555">15</text>
<text x="525.15" y="719.20" font-family="'Liberation Sans', 'DejaVu Sans', sans-serif" font-size="12.6" text-anchor="middle" font-weight="normal" fill="#555">14</text>
<text x="579.65" y="719.20" font-family="'Liberation Sans', 'DejaVu Sans', sans-serif" font-size="12.6" text-anchor="middle" font-weight="normal" fill="#555">13</text>
<text x="634.00" y="719.20" font-family="'Liberation Sans', 'DejaVu Sans', sans-serif" font-size="12.6" text-anchor="middle" font-weight="normal" fill="#555">12,5</text>
<text x="688.95" y="719.20" font-family="'Liberation Sans', 'DejaVu Sans', sans-serif" font-size="12.6" text-anchor="middle" font-weight="normal" fill="#555">12</text>
<text x="739.90" y="719.20" font-family="'Liberation Sans', 'DejaVu Sans', sans-serif" font-size="12.6" text-anchor="middle" font-weight="normal" fill="#555">9</text>
<text x="786.35" y="719.20" font-family="'Liberation Sans', 'DejaVu Sans', sans-serif" font-size="12.6" text-anchor="middle" font-weight="normal" fill="#555">8</text>
<text x="73.35" y="739.40" font-family="'Liberation Sans', 'DejaVu Sans', sans-serif" font-size="12.6" text-anchor="middle" font-weight="normal" fill="#555">CUC 8-15</text>
<text x="253.70" y="739.40" font-family="'Liberation Sans', 'DejaVu Sans', sans-serif" font-size="12.6" text-anchor="middle" font-weight="normal" fill="#555">0,75</text>
<text x="469.95" y="739.40" font-family="'Liberation Sans', 'DejaVu Sans', sans-serif" font-size="12.6" text-anchor="middle" font-weight="normal" fill="#555">25</text>
<text x="525.15" y="739.40" font-family="'Liberation Sans', 'DejaVu Sans', sans-serif" font-size="12.6" text-anchor="middle" font-weight="normal" fill="#555">23</text>
<text x="579.65" y="739.40" font-family="'Liberation Sans', 'DejaVu Sans', sans-serif" font-size="12.6" text-anchor="middle" font-weight="normal" fill="#555">22</text>
<text x="634.00" y="739.40" font-family="'Liberation Sans', 'DejaVu Sans', sans-serif" font-size="12.6" text-anchor="middle" font-weight="normal" fill="#555">21</text>
<text x="688.95" y="739.40" font-family="'Liberation Sans', 'DejaVu Sans', sans-serif" font-size="12.6" text-anchor="middle" font-weight="normal" fill="#555">20</text>
<text x="739.90" y="739.40" font-family="'Liberation Sans', 'DejaVu Sans', sans-serif" font-size="12.6" text-anchor="middle" font-weight="normal" fill="#555">14</text>
<text x="786.35" y="739.40" font-family="'Liberation Sans', 'DejaVu Sans', sans-serif" font-size="12.6" text-anchor="middle" font-weight="normal" fill="#555">12</text>
<text x="73.35" y="759.60" font-family="'Liberation Sans', 'DejaVu Sans', sans-serif" font-size="12.6" text-anchor="middle" font-weight="normal" fill="#555">CUC 8-20</text>
<text x="253.70" y="759.60" font-family="'Liberation Sans', 'DejaVu Sans', sans-serif" font-size="12.6" text-anchor="middle" font-weight="normal" fill="#555">1,0</text>
<text x="469.95" y="759.60" font-family="'Liberation Sans', 'DejaVu Sans', sans-serif" font-size="12.6" text-anchor="middle" font-weight="normal" fill="#555">32</text>
<text x="525.15" y="759.60" font-family="'Liberation Sans', 'DejaVu Sans', sans-serif" font-size="12.6" text-anchor="middle" font-weight="normal" fill="#555">29</text>
<text x="579.65" y="759.60" font-family="'Liberation Sans', 'DejaVu Sans', sans-serif" font-size="12.6" text-anchor="middle" font-weight="normal" fill="#555">27</text>
<text x="634.00" y="759.60" font-family="'Liberation Sans', 'DejaVu Sans', sans-serif" font-size="12.6" text-anchor="middle" font-weight="normal" fill="#555">25</text>
<text x="688.95" y="759.60" font-family="'Liberation Sans', 'DejaVu Sans', sans-serif" font-size="12.6" text-anchor="middle" font-weight="normal" fill="#555">24</text>
<text x="739.90" y="759.60" font-family="'Liberation Sans', 'DejaVu Sans', sans-serif" font-size="12.6" text-anchor="middle" font-weight="normal" fill="#555">21</text>
<text x="786.35" y="759.60" font-family="'Liberation Sans', 'DejaVu Sans', sans-serif" font-size="12.6" text-anchor="middle" font-weight="normal" fill="#555">17</text>
<text x="73.35" y="779.70" font-family="'Liberation Sans', 'DejaVu Sans', sans-serif" font-size="12.6" text-anchor="middle" font-weight="normal" fill="#555">CUC 8-25</text>
<text x="253.70" y="779.70" font-family="'Liberation Sans', 'DejaVu Sans', sans-serif" font-size="12.6" text-anchor="middle" font-weight="normal" fill="#555">1,5</text>
<text x="469.95" y="779.70" font-family="'Liberation Sans', 'DejaVu Sans', sans-serif" font-size="12.6" text-anchor="middle" font-weight="normal" fill="#555">43</text>
<text x="525.15" y="779.70" font-family="'Liberation Sans', 'DejaVu Sans', sans-serif" font-size="12.6" text-anchor="middle" font-weight="normal" fill="#555">40</text>
<text x="579.65" y="779.70" font-family="'Liberation Sans', 'DejaVu Sans', sans-serif" font-size="12.6" text-anchor="middle" font-weight="normal" fill="#555">38</text>
<text x="634.00" y="779.70" font-family="'Liberation Sans', 'DejaVu Sans', sans-serif" font-size="12.6" text-anchor="middle" font-weight="normal" fill="#555">34</text>
<text x="688.95" y="779.70" font-family="'Liberation Sans', 'DejaVu Sans', sans-serif" font-size="12.6" text-anchor="middle" font-weight="normal" fill="#555">27</text>
<text x="739.90" y="779.70" font-family="'Liberation Sans', 'DejaVu Sans', sans-serif" font-size="12.6" text-anchor="middle" font-weight="normal" fill="#555">25</text>
<text x="786.35" y="779.70" font-family="'Liberation Sans', 'DejaVu Sans', sans-serif" font-size="12.6" text-anchor="middle" font-weight="normal" fill="#555">20</text>
<text x="73.35" y="799.80" font-family="'Liberation Sans', 'DejaVu Sans', sans-serif" font-size="12.6" text-anchor="middle" font-weight="normal" fill="#555">CUC 8-30</text>
<text x="253.70" y="799.80" font-family="'Liberation Sans', 'DejaVu Sans', sans-serif" font-size="12.6" text-anchor="middle" font-weight="normal" fill="#555">1,85</text>
<text x="469.95" y="799.80" font-family="'Liberation Sans', 'DejaVu Sans', sans-serif" font-size="12.6" text-anchor="middle" font-weight="normal" fill="#555">50</text>
<text x="525.15" y="799.80" font-family="'Liberation Sans', 'DejaVu Sans', sans-serif" font-size="12.6" text-anchor="middle" font-weight="normal" fill="#555">46</text>
<text x="579.65" y="799.80" font-family="'Liberation Sans', 'DejaVu Sans', sans-serif" font-size="12.6" text-anchor="middle" font-weight="normal" fill="#555">44</text>
<text x="634.00" y="799.80" font-family="'Liberation Sans', 'DejaVu Sans', sans-serif" font-size="12.6" text-anchor="middle" font-weight="normal" fill="#555">40</text>
<text x="688.95" y="799.80" font-family="'Liberation Sans', 'DejaVu Sans', sans-serif" font-size="12.6" text-anchor="middle" font-weight="normal" fill="#555">36</text>
<text x="739.90" y="799.80" font-family="'Liberation Sans', 'DejaVu Sans', sans-serif" font-size="12.6" text-anchor="middle" font-weight="normal" fill="#555">30</text>
<text x="786.35" y="799.80" font-family="'Liberation Sans', 'DejaVu Sans', sans-serif" font-size="12.6" text-anchor="middle" font-weight="normal" fill="#555">26</text>
<text x="73.35" y="820.10" font-family="'Liberation Sans', 'DejaVu Sans', sans-serif" font-size="12.6" text-anchor="middle" font-weight="normal" fill="#555">CUC 8-35</text>
<text x="253.70" y="820.10" font-family="'Liberation Sans', 'DejaVu Sans', sans-serif" font-size="12.6" text-anchor="middle" font-weight="normal" fill="#555">2,2</text>
<text x="469.95" y="820.10" font-family="'Liberation Sans', 'DejaVu Sans', sans-serif" font-size="12.6" text-anchor="middle" font-weight="normal" fill="#555">56</text>
<text x="525.15" y="820.10" font-family="'Liberation Sans', 'DejaVu Sans', sans-serif" font-size="12.6" text-anchor="middle" font-weight="normal" fill="#555">51</text>
<text x="579.65" y="820.10" font-family="'Liberation Sans', 'DejaVu Sans', sans-serif" font-size="12.6" text-anchor="middle" font-weight="normal" fill="#555">48</text>
<text x="634.00" y="820.10" font-family="'Liberation Sans', 'DejaVu Sans', sans-serif" font-size="12.6" text-anchor="middle" font-weight="normal" fill="#555">44</text>
<text x="688.95" y="820.10" font-family="'Liberation Sans', 'DejaVu Sans', sans-serif" font-size="12.6" text-anchor="middle" font-weight="normal" fill="#555">43</text>
<text x="739.90" y="820.10" font-family="'Liberation Sans', 'DejaVu Sans', sans-serif" font-size="12.6" text-anchor="middle" font-weight="normal" fill="#555">35</text>
<text x="786.35" y="820.10" font-family="'Liberation Sans', 'DejaVu Sans', sans-serif" font-size="12.6" text-anchor="middle" font-weight="normal" fill="#555">28</text>
<text x="73.35" y="840.30" font-family="'Liberation Sans', 'DejaVu Sans', sans-serif" font-size="12.6" text-anchor="middle" font-weight="normal" fill="#555">CUC 8-40</text>
<text x="253.70" y="840.30" font-family="'Liberation Sans', 'DejaVu Sans', sans-serif" font-size="12.6" text-anchor="middle" font-weight="normal" fill="#555">2,2</text>
<text x="469.95" y="840.30" font-family="'Liberation Sans', 'DejaVu Sans', sans-serif" font-size="12.6" text-anchor="middle" font-weight="normal" fill="#555">65</text>
<text x="525.15" y="840.30" font-family="'Liberation Sans', 'DejaVu Sans', sans-serif" font-size="12.6" text-anchor="middle" font-weight="normal" fill="#555">57,2</text>
<text x="579.65" y="840.30" font-family="'Liberation Sans', 'DejaVu Sans', sans-serif" font-size="12.6" text-anchor="middle" font-weight="normal" fill="#555">57</text>
<text x="634.00" y="840.30" font-family="'Liberation Sans', 'DejaVu Sans', sans-serif" font-size="12.6" text-anchor="middle" font-weight="normal" fill="#555">50</text>
<text x="688.95" y="840.30" font-family="'Liberation Sans', 'DejaVu Sans', sans-serif" font-size="12.6" text-anchor="middle" font-weight="normal" fill="#555">48</text>
<text x="739.90" y="840.30" font-family="'Liberation Sans', 'DejaVu Sans', sans-serif" font-size="12.6" text-anchor="middle" font-weight="normal" fill="#555">42</text>
<text x="786.35" y="840.30" font-family="'Liberation Sans', 'DejaVu Sans', sans-serif" font-size="12.6" text-anchor="middle" font-weight="normal" fill="#555">34</text>
<text x="406.75" y="779.40" font-family="'Liberation Sans', 'DejaVu Sans', sans-serif" font-size="13" text-anchor="middle" font-weight="bold" fill="#333">Н, м</text>
</svg>
</body></html>
